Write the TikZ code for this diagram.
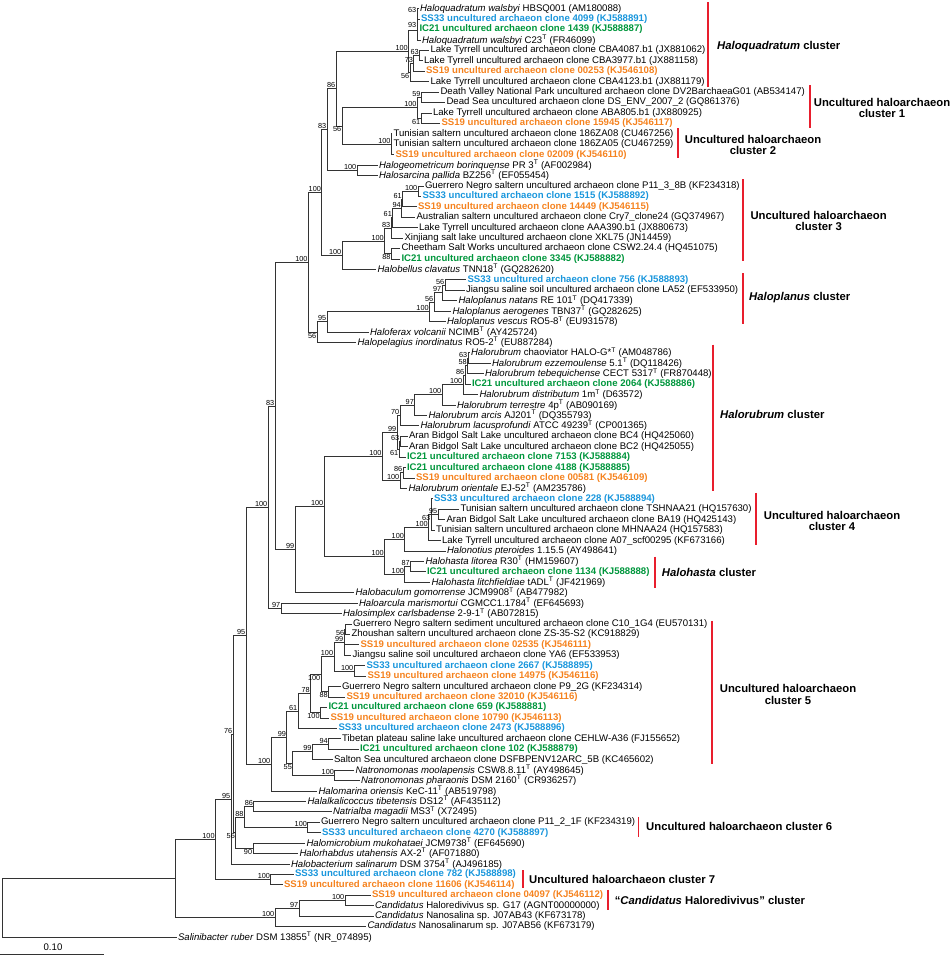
\documentclass[tikz,border=0pt]{standalone}
\usepackage{fontspec}
\setmainfont{Liberation Sans}
\usepackage{xcolor}
\usepackage{tikz}
\definecolor{ss33blue}{RGB}{25,150,220}
\definecolor{ic21green}{RGB}{0,150,60}
\definecolor{ss19orange}{RGB}{245,130,30}
\definecolor{barred}{RGB}{232,30,45}
\tikzset{
    branch/.style = {draw=black!80, line width=0.75pt},
    leaf/.style = {anchor=west, inner sep=1.3pt, font=\fontsize{9.6}{10}\selectfont},
    ss33_leaf/.style = {leaf, text=ss33blue, font=\fontsize{9.6}{10}\selectfont\bfseries},
    ic21_leaf/.style = {leaf, text=ic21green, font=\fontsize{9.6}{10}\selectfont\bfseries},
    ss19_leaf/.style = {leaf, text=ss19orange, font=\fontsize{9.6}{10}\selectfont\bfseries},
    boot/.style = {anchor=south east, inner sep=0.6pt, font=\fontsize{7.3}{8}\selectfont},
    boot_below/.style = {boot, anchor=north east},
    cluster_bar/.style = {draw=barred, line width=1.8pt},
    cluster_text/.style = {align=center, inner sep=0pt, font=\fontsize{11.3}{11.6}\selectfont\bfseries}
}

\begin{document}
\begin{tikzpicture}[x=1pt, y=-10.43pt]
\useasboundingbox (0,0.1755) rectangle (950,91.83);

\foreach \n/\x/\y in {A1/417/1.5, A2/417/2.25, A3/417/3.125, B1/419.5/5.5, B2/413.7/6.25,
    B3/410/7.125, A4/408.5/5.125, D1/421.3/9.5, D2/421/11.5, D3/417.3/10.5, E1/391.3/14,
    C2/342/12.25, C1/336/8.6875, F1/357/16.5, C3/327/12.594, H1/418/18.5, H2/402.5/19.25,
    H3/401.5/20.125, H4/392.6/21.0625, H5/391/22.03, H6/391.3/24.5, H/384.5/23.27,
    G/342/24.63, C4/321.7/18.61, K1/445/27.5, K2/442/28.25, K3/434/29.125, K4/429.4/30.06,
    L/327/31.03, M/317/32.02, I/308.3/25.31, P1/468/34.5, P2/467.5/35.25, P3/465/36.125,
    P4/463/37.06, P5/442/38.03, P6/414.6/39.02, P7/400/40.01, Q1/400/42.5, Q2/399/43.25,
    P8/397/41.63, R1/403/45.5, R2/400/46.25, P9/382.3/43.94, T1/438/49.5, T2/431/49.5,
    T3/428.5/50.75, T4/404.7/51.875, V1/410.5/54.5, V2/404.7/55.25, U/384.5/53.56,
    W/324/48.75, X/295/52.875, N/275/39.09, AG/281/58.5, NN/268/48.8, DD1/345/60.5,
    DD2/344/61.75, DD4/354/64.5, DD3/333.9/63.125, DD6/328.5/66.5, DD5/321/64.81,
    DD8/320.4/68.5, DD7/310.5/66.66, DD9/298/68.33, EE1/328.5/71.5, EE2/312.3/72.25,
    EE3/334.7/74.5, EE/292.6/73.375, DD10/286.8/70.85, BB/271/73.43, OO/246/61.11,
    AC1/253.8/77.5, AC3/307.7/79.5, AC2/244.2/78.5, AC5/252.9/81.5, AC4/235.6/80,
    PP/233/70.56, QQ/231/76.78, AB/270.8/84.5, AA/215.4/80.64, Ca1/345/86.5,
    Ca2/299/87.25, Ca3/275/88.125, Z/175/84.38, R0/2/87.19}
    \coordinate (\n) at (\x,\y);

\foreach \up/\dn in {A2/A1, A3/A2, A4/A3, B2/B1, B3/B2, A4/B3, C1/A4, D3/D1, D3/D2, C2/D3,
    C2/E1, C1/C2, C3/C1, C3/F1, C4/C3, H2/H1, H3/H2, H4/H3, H5/H4, H/H5, H/H6, G/H, C4/G,
    I/C4, K2/K1, K3/K2, K4/K3, L/K4, M/L, I/M, N/I, P2/P1, P3/P2, P4/P3, P5/P4, P6/P5,
    P7/P6, P8/P7, Q2/Q1, P8/Q2, R2/R1, P9/P8, P9/R2, T2/T1, T3/T2, T4/T3, V2/V1, U/T4,
    U/V2, W/P9, W/U, X/W, N/X, NN/N, NN/AG, DD2/DD1, DD3/DD2, DD3/DD4, DD5/DD3, DD5/DD6,
    DD7/DD5, DD7/DD8, DD9/DD7, EE2/EE1, EE/EE2, EE/EE3, DD10/DD9, DD10/EE, BB/DD10,
    OO/NN, OO/BB, AC2/AC1, AC2/AC3, AC4/AC2, AC4/AC5, PP/OO, PP/AC4, QQ/PP, AA/QQ, AA/AB,
    Ca2/Ca1, Ca3/Ca2, Z/AA, Z/Ca3, R0/Z}
    \draw[branch] (\up) |- (\dn);

\foreach \rw/\up/\tx/\sty/\lab in {
    1/A1/418.5/leaf/{\textit{Haloquadratum walsbyi} HBSQ001 (AM180088)},
    2/A1/419.5/ss33_leaf/{SS33 uncultured archaeon clone 4099 (KJ588891)},
    3/A2/418/ic21_leaf/{IC21 uncultured archaeon clone 1439 (KJ588887)},
    4/A3/420.5/leaf/{\textit{Haloquadratum walsbyi} C23\textsuperscript{T} (FR46099)},
    5/B1/429/leaf/{Lake Tyrrell uncultured archaeon clone CBA4087.b1 (JX881062)},
    6/B1/422.5/leaf/{Lake Tyrrell uncultured archaeon clone CBA3977.b1 (JX881158)},
    7/B2/424.5/ss19_leaf/{SS19 uncultured archaeon clone 00253 (KJ546108)},
    8/B3/429/leaf/{Lake Tyrrell uncultured archaeon clone CBA4123.b1 (JX881179)},
    9/D1/439/leaf/{Death Valley National Park uncultured archaeon clone DV2BarchaeaG01 (AB534147)},
    10/D1/445/leaf/{Dead Sea uncultured archaeon clone DS\_ENV\_2007\_2 (GQ861376)},
    11/D2/431.5/leaf/{Lake Tyrrell uncultured archaeon clone ABA805.b1 (JX880925)},
    12/D2/440/ss19_leaf/{SS19 uncultured archaeon clone 15945 (KJ546117)},
    13/E1/392/leaf/{Tunisian saltern uncultured archaeon clone 186ZA08 (CU467256)},
    14/E1/392/leaf/{Tunisian saltern uncultured archaeon clone 186ZA05 (CU467259)},
    15/E1/394/ss19_leaf/{SS19 uncultured archaeon clone 02009 (KJ546110)},
    16/F1/377.5/leaf/{\textit{Halogeometricum borinquense} PR 3\textsuperscript{T} (AF002984)},
    17/F1/377.5/leaf/{\textit{Halosarcina pallida} BZ256\textsuperscript{T} (EF055454)},
    18/H1/423.5/leaf/{Guerrero Negro saltern uncultured archaeon clone P11\_3\_8B (KF234318)},
    19/H1/421/ss33_leaf/{SS33 uncultured archaeon clone 1515 (KJ588892)},
    20/H2/416.5/ss19_leaf/{SS19 uncultured archaeon clone 14449 (KJ546115)},
    21/H3/415/leaf/{Australian saltern uncultured archaeon clone Cry7\_clone24 (GQ374967)},
    22/H4/417.5/leaf/{Lake Tyrrell uncultured archaeon clone AAA390.b1 (JX880673)},
    23/H5/403/leaf/{Xinjiang salt lake uncultured archaeon clone XKL75 (JN14459)},
    24/H6/400/leaf/{Cheetham Salt Works uncultured archaeon clone CSW2.24.4 (HQ451075)},
    25/H6/400/ic21_leaf/{IC21 uncultured archaeon clone 3345 (KJ588882)},
    26/G/376/leaf/{\textit{Halobellus clavatus} TNN18\textsuperscript{T} (GQ282620)},
    27/K1/466/ss33_leaf/{SS33 uncultured archaeon clone 756 (KJ588893)},
    28/K1/464.5/leaf/{Jiangsu saline soil uncultured archaeon clone LA52 (EF533950)},
    29/K2/457/leaf/{\textit{Haloplanus natans} RE 101\textsuperscript{T} (DQ417339)},
    30/K3/451/leaf/{\textit{Haloplanus aerogenes} TBN37\textsuperscript{T} (GQ282625)},
    31/K4/445.5/leaf/{\textit{Haloplanus vescus} RO5-8\textsuperscript{T} (EU931578)},
    32/L/368.5/leaf/{\textit{Haloferax volcanii} NCIMB\textsuperscript{T} (AY425724)},
    33/M/356/leaf/{\textit{Halopelagius inordinatus} RO5-2\textsuperscript{T} (EU887284)},
    34/P1/469.5/leaf/{\textit{Halorubrum} chaoviator HALO-G*\textsuperscript{T} (AM048786)},
    35/P1/490.5/leaf/{\textit{Halorubrum ezzemoulense} 5.1\textsuperscript{T} (DQ118426)},
    36/P2/483.5/leaf/{\textit{Halorubrum tebequichense} CECT 5317\textsuperscript{T} (FR870448)},
    37/P3/470.5/ic21_leaf/{IC21 uncultured archaeon clone 2064 (KJ588886)},
    38/P4/478/leaf/{\textit{Halorubrum distributum} 1m\textsuperscript{T} (D63572)},
    39/P5/455.5/leaf/{\textit{Halorubrum terrestre} 4p\textsuperscript{T} (AB090169)},
    40/P6/427/leaf/{\textit{Halorubrum arcis} AJ201\textsuperscript{T} (DQ355793)},
    41/P7/419/leaf/{\textit{Halorubrum lacusprofundi} ATCC 49239\textsuperscript{T} (CP001365)},
    42/Q1/407.5/leaf/{Aran Bidgol Salt Lake uncultured archaeon clone BC4 (HQ425060)},
    43/Q1/407.5/leaf/{Aran Bidgol Salt Lake uncultured archaeon clone BC2 (HQ425055)},
    44/Q2/405.5/ic21_leaf/{IC21 uncultured archaeon clone 7153 (KJ588884)},
    45/R1/405.5/ic21_leaf/{IC21 uncultured archaeon clone 4188 (KJ588885)},
    46/R1/414.5/ss19_leaf/{SS19 uncultured archaeon clone 00581 (KJ546109)},
    47/R2/407/leaf/{\textit{Halorubrum orientale} EJ-52\textsuperscript{T} (AM235786)},
    48/T2/432.5/ss33_leaf/{SS33 uncultured archaeon clone 228 (KJ588894)},
    49/T1/459/leaf/{Tunisian saltern uncultured archaeon clone TSHNAA21 (HQ157630)},
    50/T1/445/leaf/{Aran Bidgol Salt Lake uncultured archaeon clone BA19 (HQ425143)},
    51/T2/434.5/leaf/{Tunisian saltern uncultured archaeon clone MHNAA24 (HQ157583)},
    52/T3/440.5/leaf/{Lake Tyrrell uncultured archaeon clone A07\_scf00295 (KF673166)},
    53/T4/445.5/leaf/{\textit{Halonotius pteroides} 1.15.5 (AY498641)},
    54/V1/424/leaf/{\textit{Halohasta litorea} R30\textsuperscript{T} (HM159607)},
    55/V1/425.5/ic21_leaf/{IC21 uncultured archaeon clone 1134 (KJ588888)},
    56/V2/430/leaf/{\textit{Halohasta litchfieldiae} tADL\textsuperscript{T} (JF421969)},
    57/X/354/leaf/{\textit{Halobaculum gomorrense} JCM9908\textsuperscript{T} (AB477982)},
    58/AG/357.5/leaf/{\textit{Haloarcula marismortui} CGMCC1.1784\textsuperscript{T} (EF645693)},
    59/AG/341.5/leaf/{\textit{Halosimplex carlsbadense} 2-9-1\textsuperscript{T} (AB072815)},
    60/DD1/351.5/leaf/{Guerrero Negro saltern sediment uncultured archaeon clone C10\_1G4 (EU570131)},
    61/DD1/350/leaf/{Zhoushan saltern uncultured archaeon clone ZS-35-S2 (KC918829)},
    62/DD2/359/ss19_leaf/{SS19 uncultured archaeon clone 02535 (KJ546111)},
    63/DD2/351/leaf/{Jiangsu saline soil uncultured archaeon clone YA6 (EF533953)},
    64/DD4/365/ss33_leaf/{SS33 uncultured archaeon clone 2667 (KJ588895)},
    65/DD4/366/ss19_leaf/{SS19 uncultured archaeon clone 14975 (KJ546116)},
    66/DD6/340.5/leaf/{Guerrero Negro saltern uncultured archaeon clone P9\_2G (KF234314)},
    67/DD6/345/ss19_leaf/{SS19 uncultured archaeon clone 32010 (KJ546116)},
    68/DD8/327/ic21_leaf/{IC21 uncultured archaeon clone 659 (KJ588881)},
    69/DD8/329/ss19_leaf/{SS19 uncultured archaeon clone 10790 (KJ546113)},
    70/DD9/337/ss33_leaf/{SS33 uncultured archaeon clone 2473 (KJ588896)},
    71/EE1/340.5/leaf/{Tibetan plateau saline lake uncultured archaeon clone CEHLW-A36 (FJ155652)},
    72/EE1/358.5/ic21_leaf/{IC21 uncultured archaeon clone 102 (KJ588879)},
    73/EE2/332.5/leaf/{Salton Sea uncultured archaeon clone DSFBPENV12ARC\_5B (KC465602)},
    74/EE3/354/leaf/{\textit{Natronomonas moolapensis} CSW8.8.11\textsuperscript{T} (AY498645)},
    75/EE3/359.5/leaf/{\textit{Natronomonas pharaonis} DSM 2160\textsuperscript{T} (CR936257)},
    76/BB/317/leaf/{\textit{Halomarina oriensis} KeC-11\textsuperscript{T} (AB519798)},
    77/AC1/306/leaf/{\textit{Halalkalicoccus tibetensis} DS12\textsuperscript{T} (AF435112)},
    78/AC1/331.5/leaf/{\textit{Natrialba magadii} MS3\textsuperscript{T} (X72495)},
    79/AC3/319.5/leaf/{Guerrero Negro saltern uncultured archaeon clone P11\_2\_1F (KF234319)},
    80/AC3/320.5/ss33_leaf/{SS33 uncultured archaeon clone 4270 (KJ588897)},
    81/AC5/305/leaf/{\textit{Halomicrobium mukohataei} JCM9738\textsuperscript{T} (EF645690)},
    82/AC5/298/leaf/{\textit{Halorhabdus utahensis} AX-2\textsuperscript{T} (AF071880)},
    83/QQ/289.5/leaf/{\textit{Halobacterium salinarum} DSM 3754\textsuperscript{T} (AJ496185)},
    84/AB/293.5/ss33_leaf/{SS33 uncultured archaeon clone 782 (KJ588898)},
    85/AB/282.5/ss19_leaf/{SS19 uncultured archaeon clone 11606 (KJ546114)},
    86/Ca1/370.5/ss19_leaf/{SS19 uncultured archaeon clone 04097 (KJ546112)},
    87/Ca1/373.5/leaf/{\textit{Candidatus} Haloredivivus sp. G17 (AGNT00000000)},
    88/Ca2/373.5/leaf/{\textit{Candidatus} Nanosalina sp. J07AB43 (KF673178)},
    89/Ca3/366/leaf/{\textit{Candidatus} Nanosalinarum sp. J07AB56 (KF673179)},
    90/R0/176.5/leaf/{\textit{Salinibacter ruber} DSM 13855\textsuperscript{T} (NR\_074895)}}
{
    \node[\sty] (l\rw) at (\tx,\rw) {\lab};
    \draw[branch] (\up) |- (l\rw.west);
}

\foreach \n/\v in {A1/63, B1/63, B2/73, A4/100, D1/59, D3/100, E1/100, C1/86, F1/100,
    C3/83, H1/100, H2/61, H3/94, H4/61, H5/83, H/100, G/100, C4/100, K1/56, K2/97, K3/56,
    K4/100, L/95, I/100, P1/63, P2/58, P3/86, P4/100, P5/100, P6/97, P7/70, Q1/63, P8/99,
    R1/86, R2/100, P9/100, T1/95, T3/100, T4/100, V1/87, V2/100, U/100, W/100,
    X/99, N/83, AG/97, NN/100, DD2/99, DD4/100, DD3/100, DD7/78, DD9/61, EE1/94, EE2/99,
    EE3/100, DD10/99, BB/100, OO/95, AC1/86, AC3/100, AC2/88, PP/76, QQ/95, AB/100,
    AA/100, Ca1/100, Ca2/97, Ca3/100}
    \node[boot] at (\n) {\v};
\foreach \n/\v in {A2/93, B3/56, D2/61, C2/56, H6/88, M/56, Q2/61, T2/63, DD1/56, DD6/88,
    DD5/100, DD8/100, EE/55, AC5/90, AC4/56}
    \node[boot_below] at (\n) {\v};

\draw[cluster_bar] (708,0.37) -- (708,8.52);
\node[cluster_text, anchor=west] (hq_lab) at (717,4.65) {\textit{Haloquadratum} cluster};
\draw[cluster_bar] (809.6,8.35) -- (809.6,12.45);
\node[cluster_text] (c1_lab) at (882,10.53) {Uncultured haloarchaeon\\cluster 1};
\draw[cluster_bar] (678,12.45) -- (678,15.32);
\node[cluster_text] (c2_lab) at (753,14.08) {Uncultured haloarchaeon\\cluster 2};
\draw[cluster_bar] (743.3,17.34) -- (743.3,25.17);
\node[cluster_text] (c3_lab) at (818.6,21.36) {Uncultured haloarchaeon\\cluster 3};
\draw[cluster_bar] (743.3,26.38) -- (743.3,31.21);
\node[cluster_text, anchor=west] (hp_lab) at (749,28.68) {\textit{Haloplanus} cluster};
\draw[cluster_bar] (713,33.22) -- (713,47.28);
\node[cluster_text, anchor=west] (hr_lab) at (720,39.87) {\textit{Halorubrum} cluster};
\draw[cluster_bar] (756,47.44) -- (756,52.46);
\node[cluster_text] (c4_lab) at (832,50.13) {Uncultured haloarchaeon\\cluster 4};
\draw[cluster_bar] (655,53.55) -- (655,56.52);
\node[cluster_text, anchor=west] (hh_lab) at (661.7,55.02) {\textit{Halohasta} cluster};
\draw[cluster_bar] (712,59.71) -- (712,73.4);
\node[cluster_text] (c5_lab) at (788,66.76) {Uncultured haloarchaeon\\cluster 5};
\draw[cluster_bar] (638.5,78.48) -- (638.5,80.4);
\node[cluster_text, anchor=west] (c6_lab) at (646,79.44) {Uncultured haloarchaeon cluster 6};
\draw[cluster_bar] (523,83.59) -- (523,85.31);
\node[cluster_text, anchor=west] (c7_lab) at (529,84.48) {Uncultured haloarchaeon cluster 7};
\draw[cluster_bar] (608,85.5) -- (608,87.42);
\node[cluster_text, anchor=west] (cand_lab) at (614.6,86.47) {\textquotedblleft\textit{Candidatus} Haloredivivus\textquotedblright\ cluster};

\coordinate (scale_a) at (0,91.64);
\coordinate (scale_b) at (104,91.64);
\draw[branch] (scale_a) -- (scale_b);
\node[font=\fontsize{9.6}{10}\selectfont, inner sep=0pt] (scale_lab) at (53,90.97) {0.10};
\end{tikzpicture}
\end{document}
